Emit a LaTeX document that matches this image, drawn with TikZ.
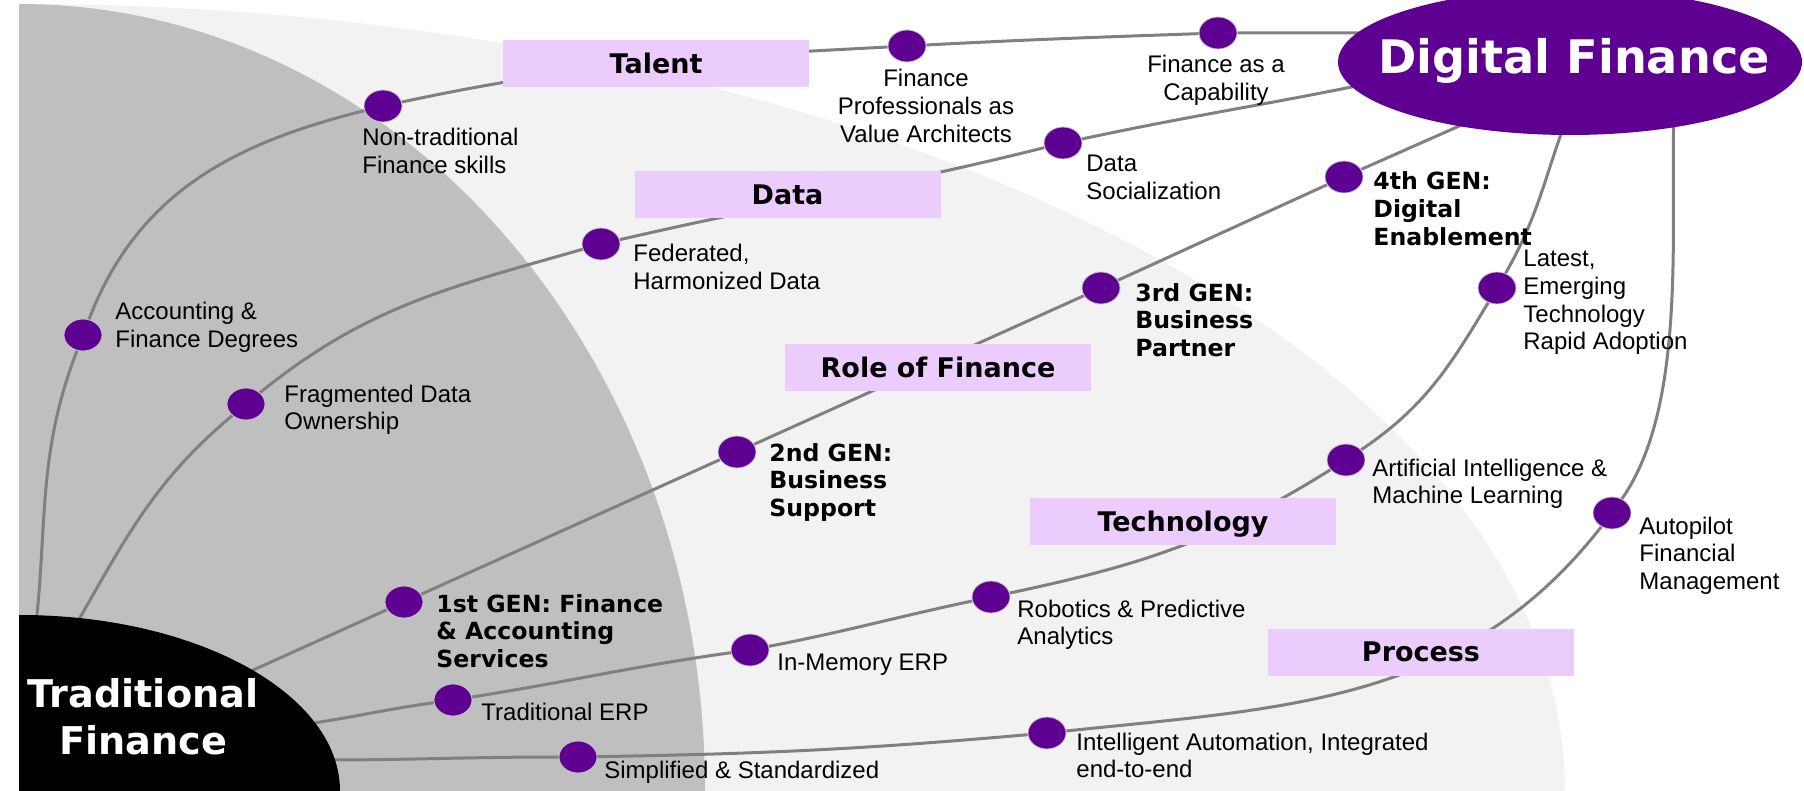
\documentclass[tikz,border=0pt]{standalone}
\usepackage{fontspec}
\setmainfont{Liberation Sans}
\newfontfamily\heavyfont{DejaVu Sans}
\usetikzlibrary{shapes.geometric}
\definecolor{pale}{HTML}{F2F2F2}
\definecolor{midgray}{HTML}{BFBFBF}
\definecolor{plum}{HTML}{5E0092}
\definecolor{lilac}{HTML}{EBCCFC}
\definecolor{linegray}{HTML}{808080}
\pgfdeclarelayer{back}
\pgfdeclarelayer{wires}
\pgfsetlayers{back,wires,main}
\newcommand\lstack[1]{\begin{tabular}[t]{@{}l@{}}#1\end{tabular}}
\newcommand\cstack[1]{\begin{tabular}[t]{@{}c@{}}#1\end{tabular}}

\begin{document}
\begin{tikzpicture}[x=0.5pt,y=-0.5pt,
  pdot/.style={ellipse, fill=plum, draw=gray!45, line width=0.4pt,
    minimum width=19pt, minimum height=16pt, inner sep=0pt},
  theme/.style={fill=lilac, minimum width=153pt, minimum height=23.5pt, inner sep=0pt,
    font=\heavyfont\bfseries\fontsize{13.5}{16}\selectfont, text height=9.8pt, text depth=0pt},
  lbl/.style={inner sep=0pt, anchor=base west, font=\fontsize{12}{13.8}\selectfont},
  clbl/.style={lbl, anchor=base},
  blbl/.style={inner sep=0pt, anchor=base west, font=\heavyfont\bfseries\fontsize{11.8}{13.8}\selectfont},
  wireline/.style={draw=linegray, line width=1.5pt},
]
\useasboundingbox (0,0) rectangle (1804,791);

% backdrop: two nested quarter ellipses
\begin{pgfonlayer}{back}
  \begin{scope}
    \clip (19,0) rectangle (1804,791);
    \fill[pale] (19,791) ellipse [x radius=773pt, y radius=393.5pt];
    \fill[midgray] (19,791) ellipse [x radius=343pt, y radius=393.5pt];
  \end{scope}
\end{pgfonlayer}

% themes
\node[theme] (talent) at (656,63.5) {Talent};
\node[theme] (data) at (787.5,195) {Data};
\node[theme] (role) at (938,367.5) {Role of Finance};
\node[theme] (tech) at (1183,521.5) {Technology};
\node[theme] (proc) at (1421,652) {Process};

% milestones
\node[pdot] (t1) at (83,335) {};
\node[pdot] (t2) at (383,106) {};
\node[pdot] (t3) at (907,46) {};
\node[pdot] (t4) at (1218,33) {};
\node[pdot] (d1) at (246,404) {};
\node[pdot] (d2) at (601,244) {};
\node[pdot] (d3) at (1063,143) {};
\node[pdot] (r1) at (404,602) {};
\node[pdot] (r2) at (737,452) {};
\node[pdot] (r3) at (1101,288) {};
\node[pdot] (r4) at (1344,177) {};
\node[pdot] (k1) at (453,700) {};
\node[pdot] (k2) at (750,650) {};
\node[pdot] (k3) at (991,597) {};
\node[pdot] (k4) at (1346,460) {};
\node[pdot] (k5) at (1497,288) {};
\node[pdot] (p1) at (578,757) {};
\node[pdot] (p2) at (1047,733) {};
\node[pdot] (p3) at (1612,513) {};

% path ends, hidden under the two end shapes
\coordinate (ts) at (36,625);
\coordinate (te) at (1400,33);
\coordinate (ds) at (74,628);
\coordinate (de) at (1400,77);
\coordinate (rs) at (220,685);
\coordinate (re) at (1500,108);
\coordinate (ks) at (300,725);
\coordinate (ke) at (1572,105);
\coordinate (ps) at (320,760);
\coordinate (pe) at (1674,110);

\begin{pgfonlayer}{wires}
  % Talent
  \draw[wireline] (ts) to[out=84,in=-111] (t1) to[out=69,in=-166] (t2)
    to[out=12,in=-177] (t3) to[out=3,in=-178] (t4) -- (te);
  % Data
  \draw[wireline] (ds) to[out=60,in=-140] (d1) to[out=39,in=-164] (d2)
    to[out=13,in=-166] (d3) to[out=12,in=-168] (de);
  % Role of Finance
  \draw[wireline] (rs) -- (r1) -- (r2) -- (r3) -- (r4) -- (re);
  % Technology
  \draw[wireline] (ks) to[out=8,in=-172] (k1) to[out=9,in=-172] (k2)
    to[out=11,in=-168] (k3) to[out=12,in=-148] (k4) to[out=34,in=-121] (k5)
    to[out=60,in=-112] (ke);
  % Process
  \draw[wireline] (ps) to[out=0,in=180] (p1) to[out=1,in=-175] (p2)
    to[out=6,in=-128] (p3) to[out=55,in=-92,looseness=0.75] (pe);
\end{pgfonlayer}

% origin and destination
\begin{scope}
  \clip (19,0) rectangle (1804,791);
  \fill[black] (20,791) ellipse [x radius=160pt, y radius=88pt];
\end{scope}
\node[anchor=base, inner sep=0pt, text=white,
  font=\heavyfont\bfseries\fontsize{19.1}{23.5}\selectfont] (tradfin) at (143,707)
  {\cstack{Traditional\\Finance}};
\node[ellipse, fill=plum, minimum width=232pt, minimum height=73pt, inner sep=0pt] (digfin) at (1570,62) {};
\node[anchor=base, inner sep=0pt, text=white,
  font=\heavyfont\bfseries\fontsize{23.1}{28}\selectfont] (digfintext) at (1574,74) {Digital Finance};

% milestone labels
\node[lbl] (l-acc) at (115,320) {\lstack{Accounting \&\\Finance Degrees}};
\node[lbl] (l-nontrad) at (362,146) {\lstack{Non-traditional\\Finance skills}};
\node[clbl] (l-prof) at (926,87) {\cstack{Finance\\Professionals as\\Value Architects}};
\node[clbl] (l-cap) at (1216,73) {\cstack{Finance as a\\Capability}};
\node[lbl] (l-frag) at (284,402) {\lstack{Fragmented Data\\Ownership}};
\node[lbl] (l-fed) at (633,262) {\lstack{Federated,\\Harmonized Data}};
\node[lbl] (l-soc) at (1086,172) {\lstack{Data\\Socialization}};
\node[blbl] (l-g1) at (436,612) {\lstack{1st GEN: Finance\\\& Accounting\\Services}};
\node[blbl] (l-g2) at (769,461) {\lstack{2nd GEN:\\Business\\Support}};
\node[blbl] (l-g3) at (1135,301) {\lstack{3rd GEN:\\Business\\Partner}};
\node[blbl] (l-g4) at (1373,190) {\lstack{4th GEN:\\Digital\\Enablement}};
\node[lbl] (l-terp) at (481,720) {Traditional ERP};
\node[lbl] (l-mem) at (777,670) {In-Memory ERP};
\node[lbl] (l-rob) at (1017,617) {\lstack{Robotics \& Predictive\\Analytics}};
\node[lbl] (l-ai) at (1372,476) {\lstack{Artificial Intelligence \&\\Machine Learning}};
\node[lbl] (l-new) at (1523,267) {\lstack{Latest,\\Emerging\\Technology\\Rapid Adoption}};
\node[lbl] (l-auto) at (1639,534) {\lstack{Autopilot\\Financial\\Management}};
\node[lbl] (l-simp) at (604,778) {Simplified \& Standardized};
\node[lbl] (l-int) at (1076,750) {\lstack{Intelligent Automation, Integrated\\end-to-end}};
\end{tikzpicture}
\end{document}
